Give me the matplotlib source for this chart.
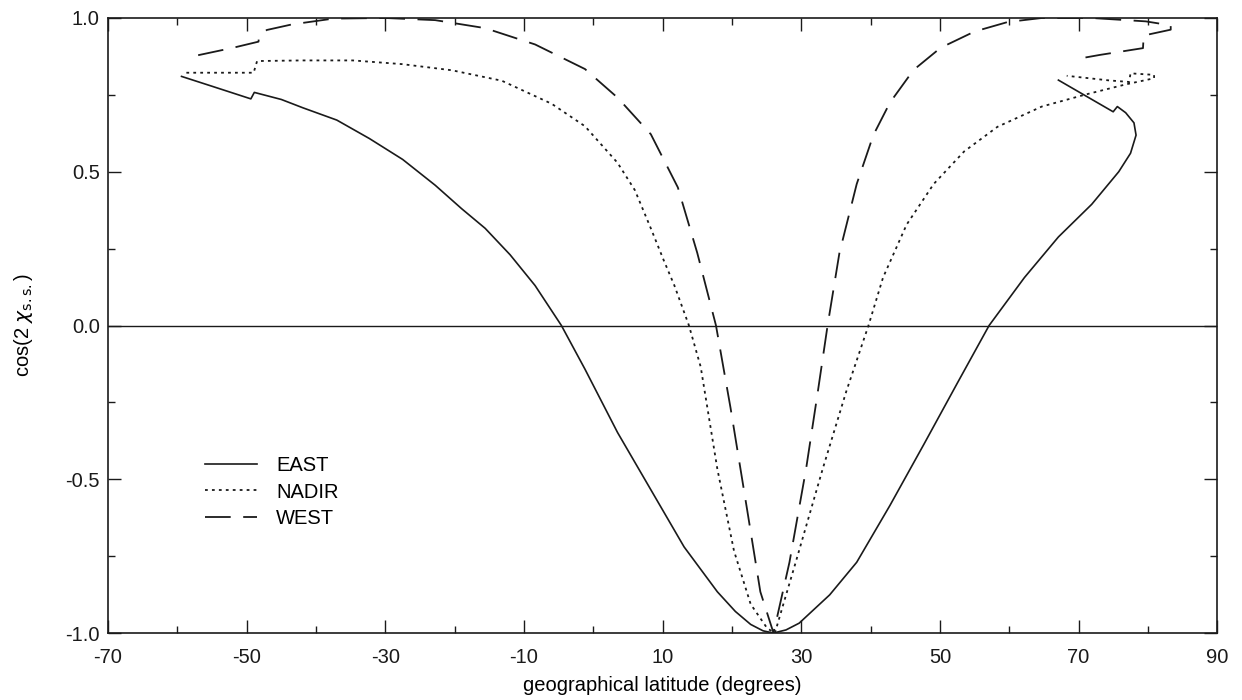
import matplotlib
matplotlib.use("Agg")
import matplotlib.pyplot as plt
from matplotlib.ticker import MultipleLocator, FormatStrFormatter

plt.rcParams['font.family'] = ['Liberation Sans', 'DejaVu Sans']
plt.rcParams['axes.unicode_minus'] = False
plt.rcParams['lines.scale_dashes'] = False

# track points (latitude, cos(2 chi)), in order along the orbit
east_lat = [-59.4, -55.0, -49.4, -48.9, -45.0, -41.9, -37.0, -32.3, -27.5, -22.8, -19.0, -15.6,
            -12.0, -8.4, -4.6, -1.2, 3.5, 8.3, 13.1, 17.9, 20.5, 22.7, 24.5, 26.0, 27.8, 29.7,
            34.1, 38.0, 42.8, 47.7, 52.5, 57.1, 62.2, 67.1, 71.9, 75.8, 77.5, 78.3, 78.0,
            76.8, 75.6, 75.0, 67.1]
east_val = [0.810, 0.778, 0.737, 0.758, 0.735, 0.708, 0.668, 0.608, 0.540, 0.456, 0.380, 0.316,
            0.230, 0.130, 0.0, -0.142, -0.348, -0.534, -0.720, -0.866, -0.930, -0.972, -0.993, -1.0,
            -0.990, -0.968, -0.876, -0.770, -0.585, -0.386, -0.188, 0.0, 0.156, 0.288, 0.394,
            0.500, 0.560, 0.619, 0.659, 0.692, 0.712, 0.695, 0.798]

nadir_lat = [-58.7, -49.0, -48.5, -42.0, -34.7, -27.6, -20.4, -13.2, -6.0, -1.2, 3.5, 6.0, 8.3,
             10.2, 11.7, 13.8, 15.5, 17.9, 20.3, 22.7, 25.1, 26.2, 27.5, 29.2, 33.1, 36.5, 39.7,
             41.8, 45.2, 49.1, 53.5, 58.3, 64.7, 71.0, 76.8, 80.9, 80.9, 77.5, 77.3, 74.4, 68.3]
nadir_val = [0.822, 0.822, 0.860, 0.862, 0.862, 0.850, 0.830, 0.796, 0.721, 0.648, 0.529, 0.440,
             0.316, 0.210, 0.130, 0.0, -0.135, -0.467, -0.733, -0.906, -0.985, -1.0, -0.900,
             -0.770, -0.466, -0.214, 0.0, 0.156, 0.328, 0.460, 0.566, 0.646, 0.712, 0.751, 0.784,
             0.804, 0.815, 0.820, 0.792, 0.797, 0.812]

west_lat = [-57.0, -52.0, -48.3, -48.2, -47.1, -43.5, -37.5, -30.0, -22.8, -15.6, -8.4, -1.2,
            3.5, 8.3, 12.2, 15.0, 17.7, 19.8, 22.2, 24.1, 26.0, 28.3, 30.7, 32.4, 33.8, 35.5,
            38.0, 40.4, 42.8, 46.2, 50.1, 55.0, 59.8, 64.7, 71.9, 79.7, 83.3, 83.3, 79.4, 79.3,
            73.1, 69.6]
west_val = [0.879, 0.903, 0.923, 0.943, 0.961, 0.979, 0.998, 1.0, 0.993, 0.967, 0.914, 0.834,
            0.741, 0.622, 0.449, 0.236, 0.0, -0.268, -0.600, -0.866, -1.0, -0.770, -0.466,
            -0.214, 0.0, 0.235, 0.460, 0.619, 0.725, 0.831, 0.903, 0.956, 0.987, 1.0, 1.0, 0.989,
            0.976, 0.962, 0.943, 0.902, 0.880, 0.866]

x_ticks = [-70, -50, -30, -10, 10, 30, 50, 70, 90]
y_ticks = [-1.0, -0.5, 0.0, 0.5, 1.0]

ink = '#1a1a1a'
fs = 14.5

fig = plt.figure(figsize=(12.42, 7.0), dpi=100)
ax = fig.add_axes([0.087, 0.0957, 0.893, 0.8786])

ax.axhline(0, color=ink, lw=1.0)
ax.plot(east_lat, east_val, color=ink, lw=1.2, label='EAST')
ax.plot(nadir_lat, nadir_val, color=ink, lw=1.3, dashes=(2.0, 3.0), label='NADIR')
ax.plot(west_lat, west_val, color=ink, lw=1.3, dashes=(18.5, 9.0), label='WEST')

ax.set_xlim(-70, 90)
ax.set_ylim(-1, 1)
ax.set_xticks(x_ticks)
ax.set_yticks(y_ticks)
ax.xaxis.set_minor_locator(MultipleLocator(10))
ax.yaxis.set_minor_locator(MultipleLocator(0.25))
ax.yaxis.set_major_formatter(FormatStrFormatter('%.1f'))
ax.tick_params(which='both', direction='in', top=True, right=True, colors=ink,
               labelsize=fs, width=1.0)
ax.tick_params(which='major', length=9.5)
ax.tick_params(which='minor', length=5)
ax.tick_params(axis='x', which='both', pad=11)
ax.tick_params(axis='y', which='both', pad=6)
for s in ax.spines.values():
    s.set_color(ink)
    s.set_linewidth(1.2)

ax.set_xlabel('geographical latitude (degrees)', fontsize=fs, labelpad=6)
ax.set_ylabel(r'cos(2 $\chi_{\rm s.s.}$)', fontsize=fs, labelpad=22)

ax.legend(loc='upper left', bbox_to_anchor=(0.087, 0.287), frameon=False, fontsize=fs,
          handlelength=2.6, handletextpad=0.95, labelspacing=0.35, borderpad=0,
          borderaxespad=0)

fig.savefig('out.png', dpi=100)
